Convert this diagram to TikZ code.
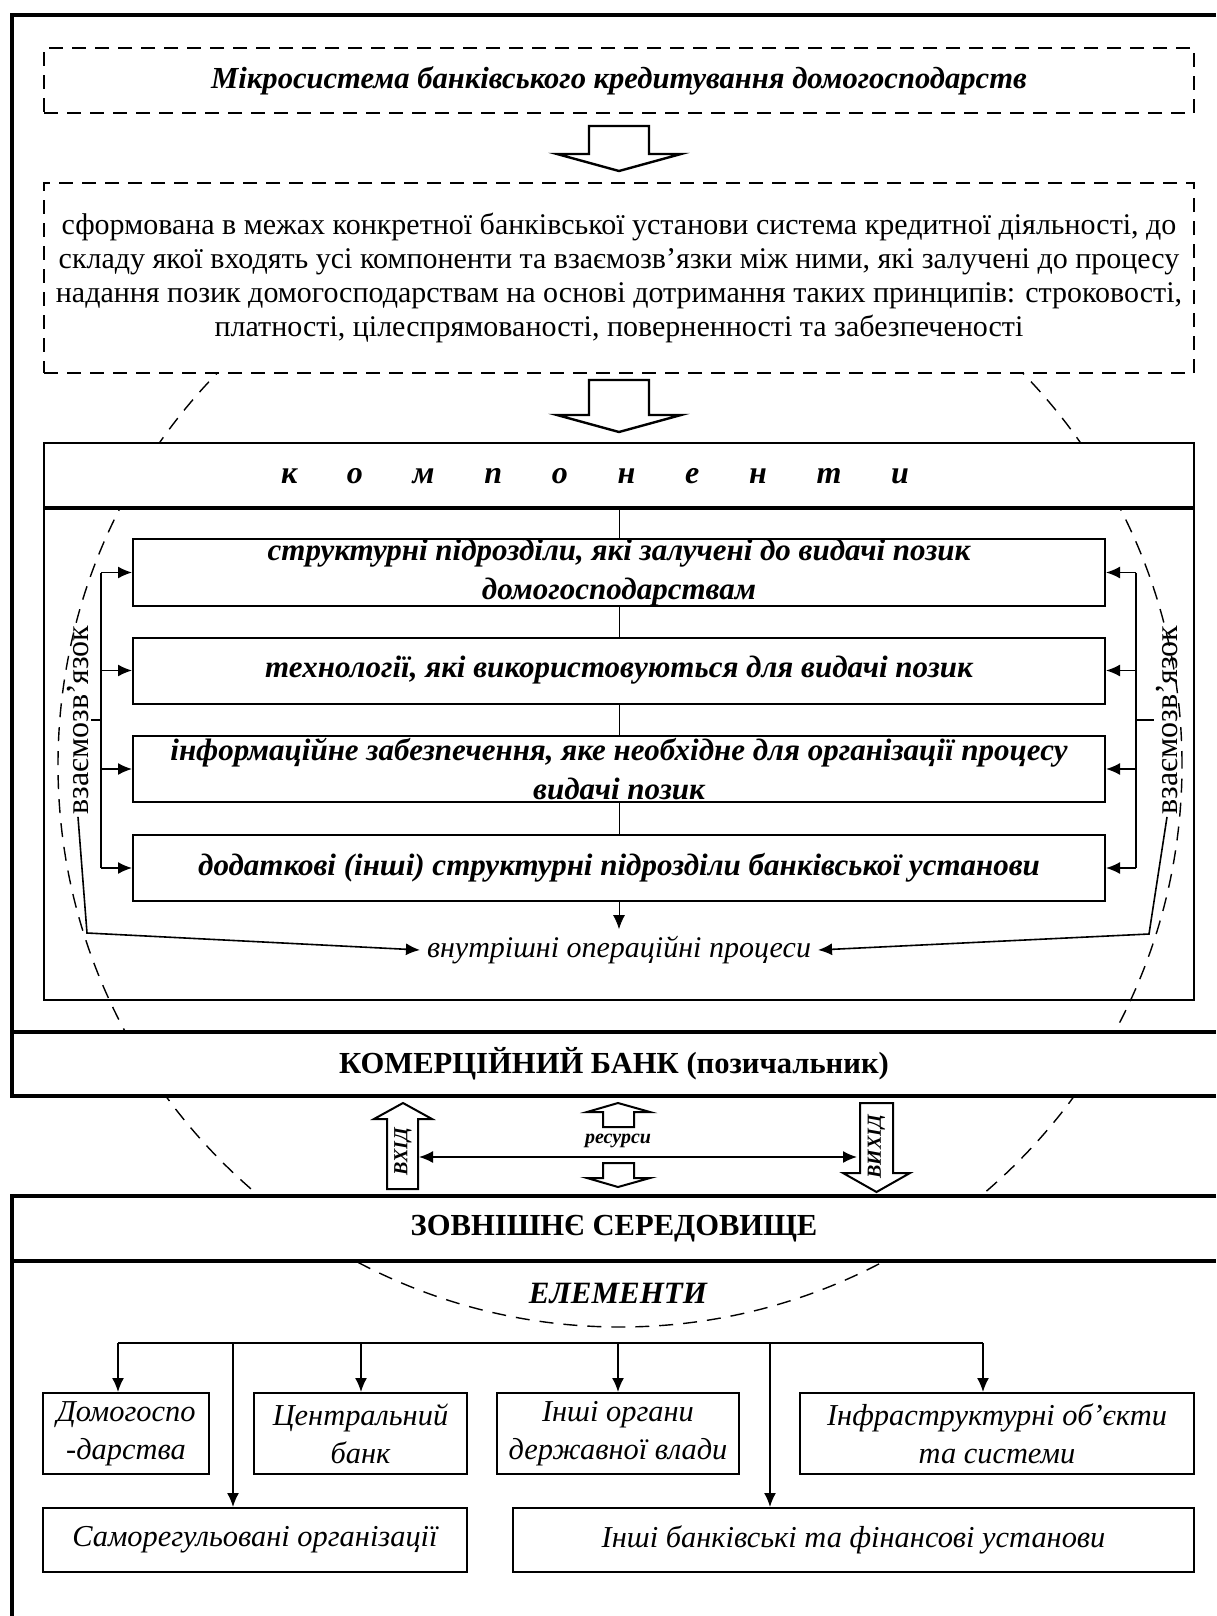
\documentclass[tikz,border=0pt]{standalone}
\usepackage{fontspec}
\setmainfont{Liberation Serif}
\usetikzlibrary{arrows.meta}

\tikzset{
	dashbox/.style={draw, dash pattern=on 7pt off 4.5pt, line width=1.3pt, fill=white, minimum width=575pt, align=center},
	compbox/.style={draw, line width=1pt, fill=white, minimum width=486pt, minimum height=33pt, inner xsep=4pt, inner ysep=0pt, align=center, font=\fontsize{15.5}{19.5}\selectfont\bfseries\itshape},
	elembox/.style={draw, line width=1pt, fill=white, align=center, font=\fontsize{15.2}{19}\selectfont\itshape},
	frameline/.style={line width=2.2pt},
	hollow/.style={draw, line width=1.2pt, fill=white, line join=miter},
	arr/.style={-{Latex[length=7pt,width=6pt]}},
	linklabel/.style={rotate=90, inner sep=1pt, font=\fontsize{16}{18}\selectfont},
}

\begin{document}
\begin{tikzpicture}[x=0.5pt, y=-0.5pt]
	\useasboundingbox (0,0) rectangle (1216,1616);

	% Dashed circle behind everything
	\draw[dash pattern=on 7pt off 5pt, line width=0.7pt] (620,765) circle[radius=281pt];

	% Commercial bank frame
	\node[fill=white, minimum width=602pt, minimum height=32pt, font=\fontsize{15.3}{18}\selectfont\bfseries] (bank) at (614,1064) {КОМЕРЦІЙНИЙ БАНК (позичальник)};
	\draw[frameline] (1216,15) -- (12,15) -- (12,1096) -- (1216,1096);
	\draw[frameline] (12,1032) -- (1216,1032);

	% External environment frame
	\node[fill=white, minimum width=602pt, minimum height=32.5pt, font=\fontsize{15.3}{18}\selectfont\bfseries] (env) at (614,1228.5) {ЗОВНІШНЄ СЕРЕДОВИЩЕ};
	\draw[frameline] (1216,1196) -- (12,1196) -- (12,1616);
	\draw[frameline] (12,1261) -- (1216,1261);

	% Microsystem and its definition
	\node[dashbox, minimum height=32.5pt, font=\fontsize{15.3}{18}\selectfont\bfseries\itshape] (micro) at (619,80.5) {Мікросистема банківського кредитування домогосподарств};
	\draw[hollow, shift={(619,126)}] (-30,0) -- (30,0) -- (30,28) -- (62,28) -- (0,45) -- (-62,28) -- (-30,28) -- cycle;
	\node[dashbox, minimum height=95pt, font=\fontsize{15}{17}\selectfont] (defin) at (619,278) {сформована в межах конкретної банківської установи система кредитної діяльності, до\\складу якої входять усі компоненти та взаємозв’язки між ними, які залучені до процесу\\надання позик домогосподарствам на основі дотримання таких принципів: строковості,\\платності, цілеспрямованості, поверненності та забезпеченості};
	\draw[hollow, shift={(619,380)}] (-30,0) -- (30,0) -- (30,35) -- (62,35) -- (0,52) -- (-62,35) -- (-30,35) -- cycle;

	% Components
	\node[draw, line width=1.3pt, fill=white, minimum width=575pt, minimum height=32pt] (comphead) at (619,475) {};
	\node[draw, line width=1pt, minimum width=575pt, minimum height=245.5pt, anchor=north] (compbody) at (comphead.south) {};
	\node[font=\fontsize{16}{18}\selectfont\bfseries\itshape] (complabel) at (595,476) {\makebox[314pt][s]{к\hfill о\hfill м\hfill п\hfill о\hfill н\hfill е\hfill н\hfill т\hfill и}};

	\node[compbox] (cA) at (619,572.5) {структурні підрозділи, які залучені до видачі позик\\домогосподарствам};
	\node[compbox] (cB) at (619,670.5) {технології, які використовуються для видачі позик};
	\node[compbox] (cC) at (619,769) {інформаційне забезпечення, яке необхідне для організації процесу\\видачі позик};
	\node[compbox] (cD) at (619,868) {додаткові (інші) структурні підрозділи банківської установи};
	\node[font=\fontsize{15}{18}\selectfont\itshape] (proc) at (619,950) {внутрішні операційні процеси};

	\draw (comphead.south) -- (cA.north);
	\draw (cA.south) -- (cB.north);
	\draw (cB.south) -- (cC.north);
	\draw (cC.south) -- (cD.north);
	\draw[arr] (cD.south) -- (proc.north);

	% Left interrelation
	\coordinate (lbus) at (101,0);
	\draw[line width=0.8pt] (lbus |- cA.west) -- (lbus |- cD.west);
	\foreach \b in {cA,cB,cC,cD}
		\draw[arr, line width=0.8pt] (lbus |- \b.west) -- (\b.west);
	\node[linklabel] (linkL) at (78,720) {взаємозв’язок};
	\draw[line width=0.8pt] (linkL.south) -- (lbus |- linkL.south);
	\coordinate (lbend) at (87,933);
	\draw[arr, line width=0.8pt] (linkL.west) -- (lbend) -- (proc.west);

	% Right interrelation
	\coordinate (rbus) at (1136,0);
	\draw[line width=0.8pt] (rbus |- cA.east) -- (rbus |- cD.east);
	\foreach \b in {cA,cB,cC,cD}
		\draw[arr, line width=0.8pt] (rbus |- \b.east) -- (\b.east);
	\node[linklabel] (linkR) at (1167,720) {взаємозв’язок};
	\draw[line width=0.8pt] (linkR.north) -- (rbus |- linkR.north);
	\coordinate (rbend) at (1149,934);
	\draw[arr, line width=0.8pt] (linkR.west) -- (rbend) -- (proc.east);

	% Input, output and resources
	\draw[hollow, line width=1pt] (387,1189) -- (387,1119) -- (374,1119) -- (403,1103) -- (432,1119) -- (418,1119) -- (418,1189) -- cycle;
	\node[rotate=90, font=\fontsize{10}{12}\selectfont\bfseries\itshape] (vhid) at (403,1152) {ВХІД};
	\draw[hollow, line width=1pt] (860,1103) -- (893,1103) -- (893,1173) -- (910,1173) -- (876.5,1192) -- (843,1173) -- (860,1173) -- cycle;
	\node[rotate=90, font=\fontsize{10}{12}\selectfont\bfseries\itshape] (vyhid) at (876.5,1147) {ВИХІД};
	\draw[hollow, line width=1pt] (603,1127) -- (603,1112) -- (587,1112) -- (618,1103) -- (650,1112) -- (634,1112) -- (634,1127) -- cycle;
	\draw[hollow, line width=1pt] (603,1163) -- (634,1163) -- (634,1178) -- (650,1178) -- (618,1187) -- (587,1178) -- (603,1178) -- cycle;
	\node[font=\fontsize{10}{12}\selectfont\bfseries\itshape] (res) at (618,1141) {ресурси};
	\coordinate (resL) at (419,1157);
	\coordinate (resR) at (857,1157);
	\draw[{Latex[length=7pt,width=6pt]}-{Latex[length=7pt,width=6pt]}, line width=0.8pt] (resL) -- (resR);

	% Elements of the environment
	\node[font=\fontsize{15.5}{18}\selectfont\bfseries\itshape] (elem) at (618,1293) {ЕЛЕМЕНТИ};
	\node[elembox, minimum width=83pt, minimum height=40.5pt] (dom) at (126,1433.5) {Домогоспо\\-дарства};
	\node[elembox, minimum width=106.5pt, minimum height=40.5pt] (cb) at (360.5,1433.5) {Центральний\\банк};
	\node[elembox, minimum width=121pt, minimum height=40.5pt] (org) at (618,1433.5) {Інші органи\\державної влади};
	\node[elembox, minimum width=197pt, minimum height=40.5pt] (infra) at (997,1433.5) {Інфраструктурні об’єкти\\та системи};
	\node[elembox, minimum width=212pt, minimum height=32pt] (sro) at (255,1540) {Саморегульовані організації};
	\node[elembox, minimum width=340.5pt, minimum height=32pt] (fin) at (853.5,1540) {Інші банківські та фінансові установи};

	\coordinate (t1) at (118,1343);
	\coordinate (t2) at (233,1343);
	\coordinate (t3) at (361,1343);
	\coordinate (t4) at (618,1343);
	\coordinate (t5) at (770,1343);
	\coordinate (t6) at (983,1343);
	\draw[line width=0.8pt] (t1) -- (t6);
	\draw[arr, line width=0.8pt] (t1) -- (t1 |- dom.north);
	\draw[arr, line width=0.8pt] (t2) -- (t2 |- sro.north);
	\draw[arr, line width=0.8pt] (t3) -- (t3 |- cb.north);
	\draw[arr, line width=0.8pt] (t4) -- (t4 |- org.north);
	\draw[arr, line width=0.8pt] (t5) -- (t5 |- fin.north);
	\draw[arr, line width=0.8pt] (t6) -- (t6 |- infra.north);
\end{tikzpicture}
\end{document}
